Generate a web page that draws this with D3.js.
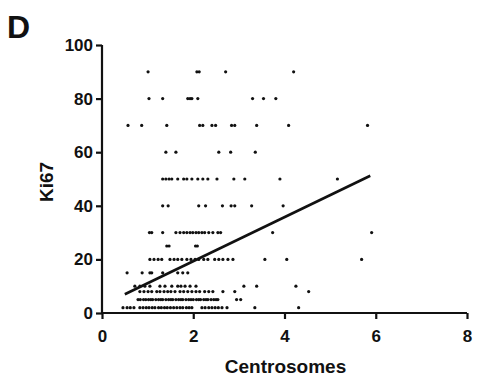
<!DOCTYPE html>
<html>
<head>
<meta charset="utf-8">
<script src="https://cdn.jsdelivr.net/npm/d3@7"></script>
<style>
  html, body { margin: 0; padding: 0; background: #fff; }
  svg { display: block; }
  text { font-family: "Liberation Sans", Arial, sans-serif; font-weight: bold; fill: #111; }
</style>
</head>
<body>
<svg id="chart" width="482" height="392"></svg>
<script>
// Centrosome counts observed at each Ki67 level
const ki67Levels = [90, 80, 70, 60, 50, 40, 30, 25, 20, 15, 10, 8, 5, 2];
const at90 = [1.01, 2.08, 2.13, 2.71, 4.20];
const at80 = [1.03, 1.33, 1.88, 1.93, 1.97, 2.10, 3.30, 3.54, 3.81];
const at70 = [0.57, 0.87, 1.42, 2.14, 2.21, 2.41, 2.49, 2.84, 2.91, 3.39, 4.09, 5.82];
const at60 = [1.40, 1.62, 2.56, 2.82, 3.36];
const at50 = [1.33, 1.40, 1.47, 1.53, 1.66, 1.79, 1.86, 1.97, 2.10, 2.21, 2.32, 2.52, 2.89, 3.13, 3.90, 5.16];
const at40 = [1.33, 1.45, 2.12, 2.27, 2.64, 2.83, 2.91, 3.28, 3.97];
const at30 = [1.04, 1.09, 1.33, 1.62, 1.71, 1.79, 1.86, 1.93, 1.99, 2.06, 2.12, 2.19, 2.25, 2.34, 2.43, 2.54, 2.60, 3.74, 5.91];
const at25 = [1.42, 1.47, 2.05, 2.09];
const at20 = [1.05, 1.14, 1.23, 1.31, 1.49, 1.58, 1.66, 1.75, 1.86, 1.95, 2.04, 2.12, 2.23, 2.32, 2.47, 2.56, 2.65, 2.76, 2.87, 3.57, 4.05, 5.69];
const at15 = [0.55, 0.88, 1.05, 1.09, 1.33, 1.66, 1.77, 1.88];
const at10 = [0.72, 0.83, 0.94, 1.05, 1.27, 1.38, 1.53, 1.66, 1.73, 1.82, 1.93, 2.06, 3.11, 3.39, 4.25];
const at8  = [0.83, 0.92, 1.01, 1.09, 1.20, 1.27, 1.36, 1.44, 1.51, 1.60, 1.71, 1.79, 1.88, 1.97, 2.06, 2.14, 2.25, 2.34, 2.43, 2.65, 2.91, 4.53];
const at5  = [0.79, 0.84, 0.91, 0.96, 1.02, 1.07, 1.11, 1.18, 1.24, 1.29, 1.33, 1.40, 1.46, 1.51, 1.55, 1.62, 1.68, 1.73, 1.77, 1.84, 1.90, 1.95, 2.00, 2.07, 2.12, 2.16, 2.23, 2.28, 2.32, 2.39, 2.45, 2.50, 2.54, 2.95, 3.04];
const at2  = [0.46, 0.55, 0.62, 0.70, 0.83, 0.90, 0.97, 1.03, 1.10, 1.16, 1.24, 1.30, 1.37, 1.43, 1.50, 1.57, 1.64, 1.71, 1.77, 1.85, 1.91, 1.97, 2.19, 2.26, 2.34, 2.41, 2.48, 2.55, 2.63, 2.74, 3.35, 4.31];
const centrosomeRows = [at90, at80, at70, at60, at50, at40, at30, at25, at20, at15, at10, at8, at5, at2];

// Linear regression (Ki67 = intercept + slope * centrosomes)
const fitSlope = 8.22;
const fitIntercept = 2.87;
const fitRange = [0.5, 5.88];

const xTicks = [0, 2, 4, 6, 8];
const yTicks = [0, 20, 40, 60, 80, 100];
const xTitle = "Centrosomes";
const yTitle = "Ki67";
const panelLabel = "D";

(function () {
const points = centrosomeRows.flatMap((row, i) => row.map(v => ({ x: v, y: ki67Levels[i] })));

const svg = d3.select("#chart");
const mLeft = 102, mRight = 467, mTop = 45, mBottom = 313;

const x = d3.scaleLinear().domain([0, 8]).range([mLeft, mRight]);
const y = d3.scaleLinear().domain([0, 100]).range([mBottom, mTop]);

const xAxis = svg.append("g").attr("transform", `translate(0,${mBottom})`)
  .call(d3.axisBottom(x).tickValues(xTicks).tickSize(6).tickPadding(11).tickFormat(d3.format("d")));
const yAxis = svg.append("g").attr("transform", `translate(${mLeft},0)`)
  .call(d3.axisLeft(y).tickValues(yTicks).tickSize(6).tickPadding(3).tickFormat(d3.format("d")));

[xAxis, yAxis].forEach(g => {
  g.select(".domain").attr("stroke", "#111").attr("stroke-width", 2.2);
  g.selectAll(".tick line").attr("stroke", "#111").attr("stroke-width", 2.2);
  g.selectAll(".tick text").attr("fill", "#111").style("font-size", "17px").style("font-weight", "bold")
    .style("font-family", "'Liberation Sans', Arial, sans-serif");
});
xAxis.select(".domain").attr("d", `M${mLeft},0H${mRight}`);
yAxis.select(".domain").attr("d", `M0,${mBottom}V${mTop}`);

svg.append("g").selectAll("circle").data(points).join("circle")
  .attr("cx", d => x(d.x)).attr("cy", d => y(d.y)).attr("r", 1.6).attr("fill", "#111");

svg.append("path")
  .datum(fitRange.map(v => ({ x: v, y: fitIntercept + fitSlope * v })))
  .attr("d", d3.line().x(d => x(d.x)).y(d => y(d.y)))
  .attr("stroke", "#111").attr("stroke-width", 2.6).attr("fill", "none");

svg.append("text").attr("x", (mLeft + mRight) / 2 + 1).attr("y", 373).attr("text-anchor", "middle")
  .style("font-size", "19px").text(xTitle);
svg.append("text").attr("transform", `translate(53,182) rotate(-90)`).attr("text-anchor", "middle")
  .style("font-size", "19px").text(yTitle);
svg.append("text").attr("x", 7).attr("y", 38).style("font-size", "32px").text(panelLabel);
})();
</script>
</body>
</html>
